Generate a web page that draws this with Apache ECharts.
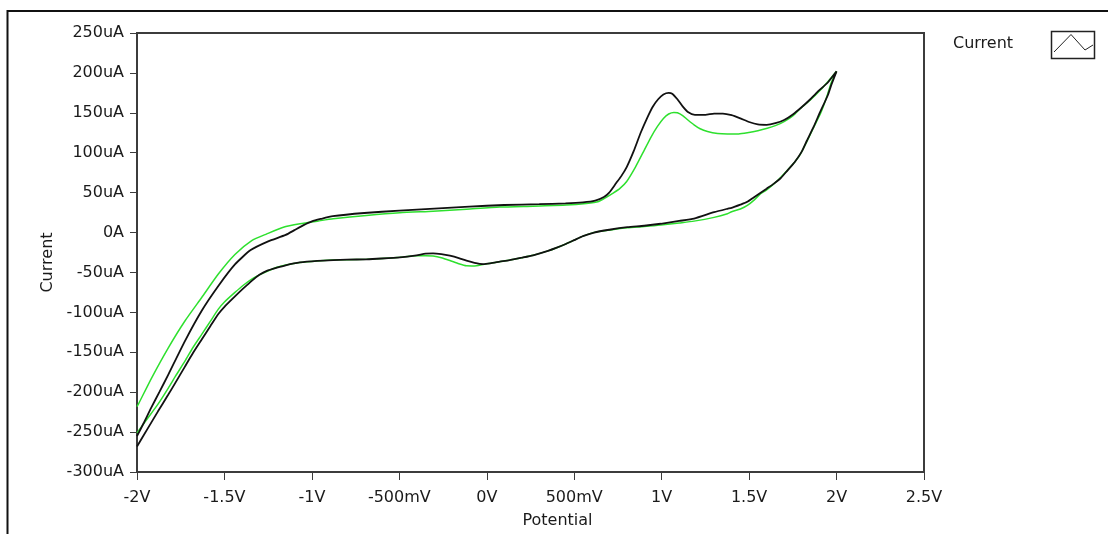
<!DOCTYPE html>
<html>
<head>
<meta charset="utf-8">
<script src="https://cdn.jsdelivr.net/npm/echarts@6/dist/echarts.min.js"></script>
<style>
html,body{margin:0;padding:0;background:#fff;}
#chart{width:1108px;height:534px;}
</style>
</head>
<body>
<div id="chart"></div>
<script>
// Potential (V) and Current (uA), forward branch then reverse branch
var blackPotential = [
 -2.0,-1.96,-1.92,-1.87,-1.821,-1.726,-1.63,-1.535,-1.44,-1.35,-1.25,-1.15,-1.10,-1.05,-1.0,-0.95,-0.88,-0.7,-0.5,-0.3,-0.1,0.1,0.3,0.45,0.55,0.62,0.67,0.70,0.74,0.77,0.80,0.84,0.88,0.92,0.95,0.98,1.01,1.04,1.06,1.09,1.12,1.15,1.19,1.25,1.30,1.35,1.40,1.45,1.50,1.55,1.60,1.65,1.70,1.75,1.80,1.85,1.90,1.95,2.0,
 1.97,1.95,1.90,1.87,1.83,1.80,1.76,1.72,1.68,1.64,1.60,1.566,1.52,1.49,1.45,1.40,1.376,1.30,1.185,1.10,0.995,0.90,0.804,0.70,0.613,0.55,0.50,0.455,0.40,0.35,0.265,0.20,0.13,0.074,0.02,-0.02,-0.07,-0.116,-0.16,-0.211,-0.26,-0.307,-0.35,-0.402,-0.497,-0.60,-0.688,-0.80,-0.878,-0.97,-1.069,-1.15,-1.20,-1.258,-1.30,-1.344,-1.392,-1.44,-1.50,-1.535,-1.58,-1.63,-1.68,-1.726,-1.78,-1.821,-1.88,-1.94,-2.0
];
var blackCurrent = [
 -255,-238,-220,-199,-178,-136,-98,-67,-40,-22,-11,-3,3,9,14,17,20.5,24.5,27.5,30,32.5,34.5,35.5,36.5,37.8,40,44.5,50,62,71,82,102,125,145,158,167,173,175,174,167,158,151,147.5,147.5,149,149,147,143,138.5,135.5,135,137,141,148,157,167,178,188,202,
 185,172,148,133,115,101,88,78,68,61,55,50,43,38.5,35,31,29.8,25.5,17.5,14.5,11,8.5,6.7,3.5,0,-4.5,-9.5,-14,-19,-23,-28.5,-31.5,-34.5,-36.5,-38.5,-39.5,-38,-35.3,-32,-29,-27,-26,-26.5,-28.5,-31,-32.5,-33.5,-34,-34.5,-35.5,-37.5,-41,-44,-48,-53,-60.5,-70,-80,-93,-102,-117,-134,-151,-168,-188,-203,-224,-246,-268
];
var greenPotential = [
 -2.0,-1.992,-1.916,-1.821,-1.726,-1.63,-1.535,-1.44,-1.344,-1.258,-1.163,-1.068,-0.963,-0.878,-0.688,-0.497,-0.307,-0.116,0.074,0.265,0.455,0.569,0.64,0.683,0.72,0.76,0.80,0.85,0.90,0.94,0.976,1.01,1.04,1.07,1.09,1.12,1.15,1.185,1.22,1.262,1.32,1.376,1.44,1.49,1.55,1.604,1.65,1.70,1.75,1.795,1.85,1.909,1.95,2.0,
 1.97,1.947,1.91,1.871,1.83,1.795,1.76,1.719,1.68,1.643,1.60,1.566,1.53,1.49,1.45,1.40,1.376,1.30,1.185,1.10,0.995,0.90,0.804,0.70,0.613,0.55,0.50,0.455,0.40,0.35,0.265,0.20,0.13,0.074,0.02,-0.03,-0.07,-0.116,-0.16,-0.211,-0.26,-0.307,-0.35,-0.402,-0.497,-0.60,-0.688,-0.80,-0.878,-0.97,-1.069,-1.15,-1.20,-1.249,-1.30,-1.344,-1.392,-1.44,-1.50,-1.535,-1.58,-1.63,-1.68,-1.726,-1.78,-1.821,-1.88,-1.94,-2.0
];
var greenCurrent = [
 -218,-215,-182,-144.4,-110.8,-81.4,-52,-27.5,-10.1,-1.7,6.7,11,14.5,17.2,21.4,24.8,26.8,29.3,31.9,33.1,34.4,36.5,39,44,49,55,64,82,103,120,133,143,148.5,150.5,150,146.5,141,135,130,126.5,124,123.4,123.5,125,127.5,130.6,134,139,146,155.8,166,178.8,189,202,
 188,172,150,132.6,114,99,88,78,69,61.3,53.5,48.7,41,34,29.5,26,23.5,19,14.3,12,9.3,7.5,6,3,0,-4.5,-9.5,-14,-19,-23,-28.5,-31.5,-34.5,-36.5,-38.5,-40.5,-41.8,-41.6,-39,-35,-31.5,-29.5,-29,-29,-31,-32.5,-33.5,-34,-34.5,-35.5,-37.5,-40.7,-43.5,-47.9,-53,-58.3,-66,-75,-87,-96,-111,-127.6,-144,-161.2,-180,-194.8,-215,-233,-251
];
var xTicks = [-2,-1.5,-1,-0.5,0,0.5,1,1.5,2,2.5];
var xTickLabels = ['-2V','-1.5V','-1V','-500mV','0V','500mV','1V','1.5V','2V','2.5V'];
var yTicks = [-300,-250,-200,-150,-100,-50,0,50,100,150,200,250];
var yTickLabels = ['-300uA','-250uA','-200uA','-150uA','-100uA','-50uA','0A','50uA','100uA','150uA','200uA','250uA'];

function zip(xs, ys){ var out=[]; for(var i=0;i<xs.length;i++){ out.push([xs[i], ys[i]]); } return out; }
function lookup(ticks, labels, v){ for(var i=0;i<ticks.length;i++){ if(Math.abs(ticks[i]-v)<1e-6) return labels[i]; } return ''; }

var FONT = 'DejaVu Sans';
var FS = 16;
var chart = echarts.init(document.getElementById('chart'), null, {renderer:'canvas'});
chart.setOption({
  animation:false,
  backgroundColor:'#ffffff',
  grid:{left:137,right:184,top:33,bottom:62,containLabel:false,outerBoundsMode:'none',show:true,borderColor:'#3c3c3c',borderWidth:2,backgroundColor:'transparent'},
  xAxis:{
    type:'value',min:-2,max:2.5,interval:0.5,
    name:'Potential',nameLocation:'middle',nameGap:41,
    nameTextStyle:{fontFamily:FONT,fontSize:FS,color:'#1a1a1a',padding:[0,0,0,54]},
    axisLine:{show:true,onZero:false,lineStyle:{color:'#3c3c3c',width:2}},
    axisTick:{show:true,length:8,lineStyle:{color:'#3c3c3c',width:1}},
    axisLabel:{fontFamily:FONT,fontSize:FS,color:'#1a1a1a',margin:18,formatter:function(v){return lookup(xTicks,xTickLabels,v);}},
    splitLine:{show:false}
  },
  yAxis:{
    type:'value',min:-300,max:250,interval:50,
    name:'Current',nameLocation:'middle',nameGap:80,
    nameTextStyle:{fontFamily:FONT,fontSize:FS,color:'#1a1a1a',padding:[0,20,0,0]},
    axisLine:{show:true,onZero:false,lineStyle:{color:'#3c3c3c',width:2}},
    axisTick:{show:true,length:7,lineStyle:{color:'#3c3c3c',width:1}},
    axisLabel:{fontFamily:FONT,fontSize:FS,color:'#1a1a1a',margin:13,formatter:function(v){return lookup(yTicks,yTickLabels,v);}},
    splitLine:{show:false}
  },
  series:[
    {name:'Current',type:'line',data:zip(greenPotential,greenCurrent),showSymbol:false,symbol:'none',smooth:0.2,
     lineStyle:{color:'#2ee02e',width:1.5},z:2},
    {name:'Current',type:'line',data:zip(blackPotential,blackCurrent),showSymbol:false,symbol:'none',smooth:0.2,
     lineStyle:{color:'#111111',width:1.8},z:3}
  ],
  graphic:[
    {type:'polyline',silent:true,shape:{points:[[7.5,540],[7.5,11],[1115,11]]},style:{stroke:'#111',lineWidth:2,fill:null}},
    {type:'text',left:953,top:36,style:{text:'Current',font:FS+'px "DejaVu Sans"',fill:'#1a1a1a'}},
    {type:'rect',silent:true,shape:{x:1051.5,y:31.5,width:43,height:27},style:{stroke:'#222',lineWidth:1.5,fill:'#fff'}},
    {type:'polyline',silent:true,shape:{points:[[1054,52],[1071,34.5],[1085,50],[1093,45]]},style:{stroke:'#222',lineWidth:1,fill:null}}
  ]
});
</script>
</body>
</html>
